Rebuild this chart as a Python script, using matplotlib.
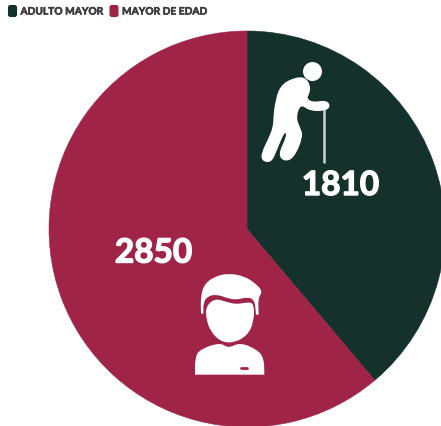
import matplotlib
matplotlib.use("Agg")
import matplotlib.pyplot as plt
from matplotlib.patches import Circle, FancyBboxPatch, PathPatch
from matplotlib.path import Path
import matplotlib.patheffects as pe

# population by group
categories = ["ADULTO MAYOR", "MAYOR DE EDAD"]
values = [1810, 2850]
colors = ["#14312c", "#a02448"]
text_grey = "#3c3c3c"

plt.rcParams["font.family"] = ["Lato", "DejaVu Sans"]

W, H = 441, 427
fig = plt.figure(figsize=(W / 100, H / 100), dpi=100, facecolor="white")

# pie, in a full-figure axes measured in pixels
ax = fig.add_axes([0, 0, 1, 1])
wedges, _ = ax.pie(values, colors=colors, startangle=90, counterclock=False,
                   center=(247, H - 230), radius=198, frame=True)
for wedge, color in zip(wedges, colors):
    wedge.set_edgecolor(color)
    wedge.set_linewidth(0.4)
ax.set_xlim(0, W)
ax.set_ylim(0, H)
ax.set_aspect("auto")
ax.axis("off")

# overlay with the y axis running downwards for legend and icons
top = fig.add_axes([0, 0, 1, 1], facecolor="none")
top.set_xlim(0, W)
top.set_ylim(H, 0)
top.axis("off")


def blob(points, ox, oy, scale=1 / 3, color="white", zorder=3):
    # closed outline smoothed with quadratic curves through the midpoints
    pts = [(ox + x * scale, oy + y * scale) for x, y in points]
    n = len(pts)
    mid = lambda a, b: ((a[0] + b[0]) / 2, (a[1] + b[1]) / 2)
    verts = [mid(pts[-1], pts[0])]
    codes = [Path.MOVETO]
    for i in range(n):
        verts += [pts[i], mid(pts[i], pts[(i + 1) % n])]
        codes += [Path.CURVE3, Path.CURVE3]
    top.add_patch(PathPatch(Path(verts, codes), fc=color, ec="none", zorder=zorder))


# legend
for x, color in zip([8, 109.5], colors):
    top.add_patch(FancyBboxPatch((x + 1, 7), 7, 10, boxstyle="round,pad=0,rounding_size=1.5",
                                 mutation_aspect=1, fc=color, ec=color, lw=1.5))
for x, label in zip([20.5, 122], categories):
    top.text(x, 13, label, fontsize=7.35, fontweight="bold", color=text_grey, va="center", ha="left",
             path_effects=[pe.withStroke(linewidth=0.4, foreground=text_grey)])

# values
bold = [pe.withStroke(linewidth=1.0, foreground="white")]
top.text(340.5, 186.5, str(values[0]), fontsize=24, fontweight="bold", color="white",
         ha="center", va="center", path_effects=bold)
top.text(153.5, 254, str(values[1]), fontsize=24, fontweight="bold", color="white",
         ha="center", va="center", path_effects=bold)

# walking figure with cane
top.add_patch(Circle((312.5, 72.5), 9.5, fc="white", ec="none", zorder=3))
top.plot([324, 324], [108, 164], color="#d0d3d2", lw=1.8, zorder=3, solid_capstyle="butt")
blob([(100, 205), (105, 160), (120, 110), (160, 86), (195, 84), (212, 110), (208, 135), (200, 148),
      (218, 160), (258, 153), (272, 170), (258, 186), (208, 186), (182, 165), (168, 205),
      (180, 235), (190, 262), (162, 328), (132, 338), (114, 316), (140, 262), (135, 245),
      (110, 305), (95, 340), (68, 338), (62, 315), (92, 255), (100, 225)],
     240, 50)

# person bust
blob([(303, 284), (303, 284), (302, 235), (312, 196), (345, 172), (385, 163), (432, 171), (468, 194),
      (488, 218), (474, 238), (476, 287), (476, 287), (468, 287), (468, 287), (464, 242), (440, 234),
      (410, 243), (380, 237), (350, 226), (322, 232), (310, 252), (310, 284), (310, 284)],
     100, 220)
blob([(318, 262), (345, 238), (380, 249), (410, 256), (440, 250), (462, 252), (462, 308),
      (442, 350), (400, 372), (362, 368), (332, 338), (318, 298)],
     100, 220)
blob([(285, 467), (285, 467), (285, 418), (298, 392), (360, 370), (385, 388), (420, 370), (472, 392),
      (492, 418), (493, 467), (493, 467)],
     100, 220)
top.plot([240.5, 246.5], [369, 369], color=colors[1], lw=2, zorder=4, solid_capstyle="round")

fig.savefig("out.png", dpi=100, facecolor="white")
